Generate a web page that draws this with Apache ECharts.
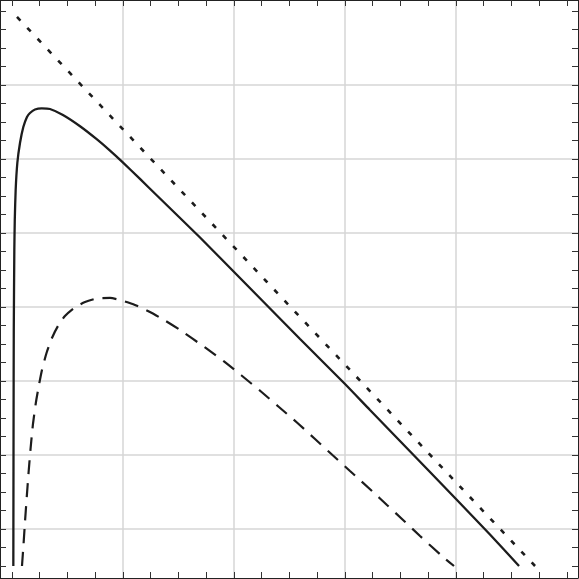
<!DOCTYPE html>
<html>
<head>
<meta charset="utf-8">
<script src="https://cdn.jsdelivr.net/npm/echarts@6/dist/echarts.min.js"></script>
<style>
html,body{margin:0;padding:0;background:#fff;}
#chart{width:579px;height:579px;}
</style>
</head>
<body>
<div id="chart"></div>
<script>
// ---- data ----
const xMinorTicks = [0,0.25,0.5,0.75,1,1.25,1.5,1.75,2,2.25,2.5,2.75,3,3.25,3.5,3.75,4,4.25,4.5,4.75,5];
const xMajorTicks = [1,2,3,4];
const yMinorTicks = [0.5,0.75,1,1.25,1.5,1.75,2,2.25,2.5,2.75,3,3.25,3.5,3.75,4,4.25,4.5,4.75,5,5.25,5.5,5.75,6,6.25,6.5,6.75,7,7.25,7.5,7.75,8];
const yMajorTicks = [1,2,3,4,5,6,7];

const solidCurve = [
  [0.012,0.5],[0.013,1.392],[0.014,2.338],[0.016,3.689],[0.021,4.770],[0.025,5.176],
  [0.033,5.581],[0.048,5.946],[0.072,6.216],[0.102,6.432],[0.135,6.568],[0.162,6.622],
  [0.207,6.669],[0.268,6.685],[0.342,6.676],[0.459,6.595],[0.613,6.443],[0.763,6.268],
  [0.883,6.114],[0.991,5.965],[1.153,5.731],[1.315,5.493],[1.694,4.939],[2.054,4.392],
  [2.595,3.568],[3.0,2.959],[3.225,2.608],[3.757,1.784],[4.0,1.405],[4.306,0.926],[4.568,0.5]
];
const dashedCurve = [
  [0.090,0.5],[0.104,0.797],[0.117,1.095],[0.131,1.392],[0.149,1.757],[0.167,2.081],
  [0.189,2.419],[0.216,2.716],[0.243,2.946],[0.270,3.149],[0.311,3.378],[0.360,3.581],
  [0.414,3.743],[0.477,3.878],[0.559,3.986],[0.658,4.068],[0.766,4.115],[0.883,4.122],
  [0.973,4.095],[1.108,4.027],[1.243,3.932],[1.378,3.818],[1.514,3.689],[1.739,3.453],
  [1.910,3.264],[2.068,3.074],[2.243,2.858],[2.405,2.649],[2.572,2.432],[2.730,2.216],
  [2.892,1.993],[3.045,1.784],[3.243,1.514],[3.378,1.324],[3.523,1.122],[3.676,0.905],
  [3.883,0.622],[3.982,0.5]
];
const dottedLine = [[0.045,7.92],[2.297,4.338],[4.712,0.5]];

// ---- view range (matches the crop of the frame) ----
const X_MIN = -0.1081, X_MAX = 5.0991;
const Y_MIN = 0.3378, Y_MAX = 8.1486;

const frameColor = '#222';
const gridColor = '#d6d6d6';
const inkColor = '#1c1c1c';

function tickAxis(pos, min, max, ticks){
  return {
    type:'value', position:pos, min:min, max:max,
    axisLine:{show:true, onZero:false, lineStyle:{color:frameColor, width:1}},
    axisTick:{show:true, inside:true, length:6, customValues:ticks, lineStyle:{color:'#333', width:1}},
    axisLabel:{show:false},
    splitLine:{show:false},
    minorTick:{show:false}
  };
}
function gridAxis(pos, min, max, ticks){
  return {
    type:'value', position:pos, min:min, max:max,
    axisLine:{show:false},
    axisTick:{show:false, customValues:ticks},
    axisLabel:{show:false},
    splitLine:{show:true, lineStyle:{color:gridColor, width:1.5}}
  };
}

const chart = echarts.init(document.getElementById('chart'), null, {renderer:'canvas'});
chart.setOption({
  backgroundColor:'#fff',
  animation:false,
  grid:{left:0, top:0, right:1, bottom:1, containLabel:false, outerBoundsMode:'none'},
  xAxis:[
    tickAxis('bottom', X_MIN, X_MAX, xMinorTicks),
    tickAxis('top', X_MIN, X_MAX, xMinorTicks),
    gridAxis('bottom', X_MIN, X_MAX, xMajorTicks)
  ],
  yAxis:[
    tickAxis('left', Y_MIN, Y_MAX, yMinorTicks),
    tickAxis('right', Y_MIN, Y_MAX, yMinorTicks),
    gridAxis('left', Y_MIN, Y_MAX, yMajorTicks)
  ],
  series:[
    {type:'line', name:'solid', data:solidCurve, xAxisIndex:0, yAxisIndex:0, showSymbol:false, symbol:'none',
     smooth:0.2, lineStyle:{color:inkColor, width:2.3, type:'solid'}, z:5},
    {type:'line', name:'dashed', data:dashedCurve, xAxisIndex:0, yAxisIndex:0, showSymbol:false, symbol:'none',
     smooth:0.2, lineStyle:{color:inkColor, width:2.2, type:[14,9]}, z:5},
    {type:'line', name:'dotted', data:dottedLine, xAxisIndex:0, yAxisIndex:0, showSymbol:false, symbol:'none',
     lineStyle:{color:inkColor, width:2.6, type:[5,10]}, z:5}
  ]
});
</script>
</body>
</html>
